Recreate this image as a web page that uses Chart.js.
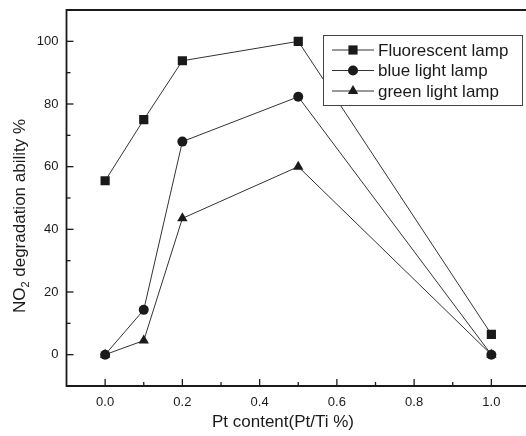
<!DOCTYPE html>
<html>
<head>
<meta charset="utf-8">
<script src="https://cdn.jsdelivr.net/npm/chart.js@4/dist/chart.umd.min.js"></script>
<style>
  html, body { margin: 0; padding: 0; background: #fff; overflow: hidden; }
  #wrap { position: relative; width: 540px; height: 436px; }
</style>
</head>
<body>
<div id="wrap"><canvas id="c" width="540" height="436"></canvas></div>
<script>
// ---- data ----
const ptContent = [0, 0.1, 0.2, 0.5, 1.0];
const fluorescentLamp = [55.5, 75, 93.8, 100, 6.5];
const blueLightLamp = [0, 14.3, 68, 82.3, 0];
const greenLightLamp = [0, 4.5, 43.5, 60, 0];
const seriesNames = ['Fluorescent lamp', 'blue light lamp', 'green light lamp'];
const xTickLabels = ['0.0', '0.2', '0.4', '0.6', '0.8', '1.0'];
const yTickLabels = ['0', '20', '40', '60', '80', '100'];
const xTitle = 'Pt content(Pt/Ti %)';
const yTitleParts = ['NO', '2', ' degradation ability %'];

const FONT = '"Liberation Sans", Arial, sans-serif';
const INK = '#1a1a1a';

function pts(ys) { return ptContent.map((x, i) => ({ x: x, y: ys[i] })); }

const styles = [
  { pointStyle: 'rect', radius: 6.5 },
  { pointStyle: 'circle', radius: 5 },
  { pointStyle: 'triangle', radius: 6 }
];
const seriesData = [fluorescentLamp, blueLightLamp, greenLightLamp];

const datasets = seriesData.map((d, i) => ({
  label: seriesNames[i],
  data: pts(d),
  borderColor: '#333',
  borderWidth: 1,
  backgroundColor: INK,
  pointBackgroundColor: INK,
  pointBorderColor: INK,
  pointBorderWidth: 0,
  pointStyle: styles[i].pointStyle,
  pointRadius: styles[i].radius,
  tension: 0,
  fill: false
}));

const decor = {
  id: 'decor',
  afterDatasetsDraw(chart) {
    const ctx = chart.ctx;
    const a = chart.chartArea;
    const xs = chart.scales.x, ys = chart.scales.y;
    ctx.save();
    // frame
    ctx.strokeStyle = INK;
    ctx.lineWidth = 1.8;
    ctx.beginPath();
    ctx.moveTo(a.right + 5, a.top);
    ctx.lineTo(a.left, a.top);
    ctx.lineTo(a.left, a.bottom);
    ctx.lineTo(a.right + 5, a.bottom);
    ctx.stroke();
    // inward ticks
    ctx.lineWidth = 1.3;
    xs.ticks.forEach(t => {
      const k = Math.round(t.value * 10);
      if (k <= -1 || k >= 11) return;
      const px = xs.getPixelForValue(t.value);
      const len = (k % 2 === 0) ? 7 : 4;
      ctx.beginPath();
      ctx.moveTo(px, a.bottom);
      ctx.lineTo(px, a.bottom - len);
      ctx.stroke();
    });
    ys.ticks.forEach(t => {
      const k = Math.round(t.value);
      if (k <= -10 || k >= 110) return;
      const py = ys.getPixelForValue(t.value);
      const len = (k % 20 === 0) ? 7 : 4;
      ctx.beginPath();
      ctx.moveTo(a.left, py);
      ctx.lineTo(a.left + len, py);
      ctx.stroke();
    });
    // axis titles
    ctx.fillStyle = INK;
    ctx.font = '17px ' + FONT;
    ctx.textAlign = 'center';
    ctx.textBaseline = 'middle';
    ctx.fillText(xTitle, 283, 422);
    // y title with subscript
    ctx.save();
    ctx.translate(19, 216);
    ctx.rotate(-Math.PI / 2);
    ctx.font = '17px ' + FONT;
    const w0 = ctx.measureText(yTitleParts[0]).width;
    ctx.font = '11px ' + FONT;
    const w1 = ctx.measureText(yTitleParts[1]).width;
    ctx.font = '17px ' + FONT;
    const w2 = ctx.measureText(yTitleParts[2]).width;
    let sx = -(w0 + w1 + w2) / 2;
    ctx.textAlign = 'left';
    ctx.textBaseline = 'alphabetic';
    ctx.fillText(yTitleParts[0], sx, 6);
    sx += w0;
    ctx.font = '11px ' + FONT;
    ctx.fillText(yTitleParts[1], sx, 10);
    sx += w1;
    ctx.font = '17px ' + FONT;
    ctx.fillText(yTitleParts[2], sx, 6);
    ctx.restore();
    // legend box
    const bx = 323, by = 35, bw = 199, bh = 70;
    ctx.fillStyle = '#fff';
    ctx.fillRect(bx, by, bw, bh);
    ctx.strokeStyle = '#444';
    ctx.lineWidth = 1;
    ctx.strokeRect(bx + 0.5, by + 0.5, bw, bh);
    const rowY = [50, 70.5, 91];
    chart.data.datasets.forEach((ds, i) => {
      const y = rowY[i];
      ctx.strokeStyle = '#333';
      ctx.lineWidth = 1;
      ctx.beginPath();
      ctx.moveTo(332, y);
      ctx.lineTo(374, y);
      ctx.stroke();
      ctx.fillStyle = INK;
      Chart.helpers.drawPoint(ctx, {
        pointStyle: ds.pointStyle,
        radius: ds.pointRadius,
        borderWidth: 0
      }, 353, y);
      ctx.fillStyle = INK;
      ctx.font = '17px ' + FONT;
      ctx.textAlign = 'left';
      ctx.textBaseline = 'middle';
      ctx.fillText(ds.label, 378, y + 1);
    });
    ctx.restore();
  }
};

new Chart(document.getElementById('c'), {
  type: 'line',
  data: { datasets: datasets },
  options: {
    responsive: false,
    animation: false,
    devicePixelRatio: 1,
    layout: { padding: { left: 0, top: 10, right: 10, bottom: 0 } },
    plugins: { legend: { display: false }, tooltip: { enabled: false } },
    scales: {
      x: {
        type: 'linear',
        min: -0.1,
        max: 1.1,
        afterFit(s) { s.height = 50; s.paddingLeft = 0; s.paddingRight = 0; },
        grid: { display: false, drawTicks: false },
        border: { display: false },
        ticks: {
          stepSize: 0.1,
          autoSkip: false,
          maxRotation: 0,
          padding: 9,
          color: INK,
          font: { family: FONT, size: 13 },
          callback(v) {
            const k = Math.round(v * 10);
            if (k < 0 || k > 10 || k % 2 !== 0) return '';
            return xTickLabels[k / 2];
          }
        }
      },
      y: {
        type: 'linear',
        min: -10,
        max: 110,
        afterFit(s) { s.width = 66.5; s.paddingTop = 0; s.paddingBottom = 0; },
        grid: { display: false, drawTicks: false },
        border: { display: false },
        ticks: {
          stepSize: 10,
          autoSkip: false,
          padding: 8,
          color: INK,
          font: { family: FONT, size: 13 },
          callback(v) {
            const k = Math.round(v);
            if (k < 0 || k > 100 || k % 20 !== 0) return '';
            return yTickLabels[k / 20];
          }
        }
      }
    }
  },
  plugins: [decor]
});
</script>
</body>
</html>
